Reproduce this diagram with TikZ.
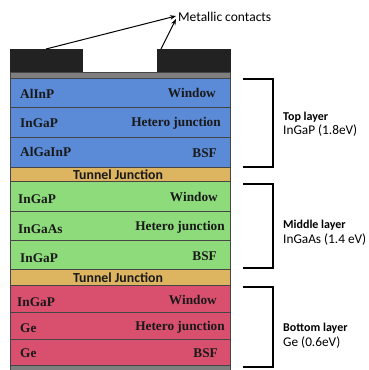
\documentclass[tikz,border=0pt]{standalone}
\usepackage{fontspec}
\setmainfont{Carlito}
\newfontfamily\layerfont{Liberation Serif}
\usetikzlibrary{arrows.meta}

\definecolor{topblue}{HTML}{5B8AD6}
\definecolor{midgreen}{HTML}{8EDB7C}
\definecolor{botred}{HTML}{D9506E}
\definecolor{tunnelgold}{HTML}{DDB45F}
\definecolor{edgegray}{HTML}{454545}
\definecolor{capgray}{HTML}{7F7F7F}
\definecolor{contactblack}{HTML}{222222}

\tikzset{
  layer/.style={draw=edgegray, line width=0.8pt, minimum width=220pt, inner sep=0pt, anchor=north west, outer sep=0pt},
  mat/.style={font=\layerfont\bfseries\fontsize{13.3}{13.3}\selectfont, text=black!90, anchor=west, inner sep=0pt},
  role/.style={font=\layerfont\bfseries\fontsize{13.3}{13.3}\selectfont, text=black!90, anchor=east, inner sep=0pt},
  tunnel/.style={font=\bfseries\fontsize{13.8}{13.8}\selectfont, text=black!90, inner sep=0pt},
  bracket/.style={line width=1.2pt, black},
  celltitle/.style={font=\bfseries\fontsize{12}{12}\selectfont, anchor=west, inner sep=0pt},
  cellsub/.style={font=\fontsize{13.3}{13.3}\selectfont, anchor=west, inner sep=0pt},
  pointer/.style={-{Stealth[length=6pt,width=4.5pt]}, line width=1pt}
}

\begin{document}
\begin{tikzpicture}[x=1pt,y=-1pt]
\useasboundingbox (0,0) rectangle (369,370);

% metal contacts and cap layer
\node[layer, draw=contactblack, fill=contactblack, minimum width=72pt, minimum height=24pt] (lc) at (10,49) {};
\node[layer, draw=contactblack, fill=contactblack, minimum width=73pt, minimum height=24pt] (rc) at (157,49) {};
\node[layer, fill=capgray, minimum height=6pt] (cap) at (10,72) {};

% top sub-cell
\node[layer, fill=topblue, minimum height=29pt] (t1) at (10,78) {};
\node[layer, fill=topblue, minimum height=30pt] (t2) at (10,107) {};
\node[layer, fill=topblue, minimum height=30pt] (t3) at (10,137) {};
\node[layer, fill=tunnelgold, minimum height=14pt] (tj1) at (10,167) {};

% middle sub-cell
\node[layer, fill=midgreen, minimum height=30pt] (m1) at (10,181) {};
\node[layer, fill=midgreen, minimum height=29pt] (m2) at (10,211) {};
\node[layer, fill=midgreen, minimum height=29pt] (m3) at (10,240) {};
\node[layer, fill=tunnelgold, minimum height=16pt] (tj2) at (10,269) {};

% bottom sub-cell
\node[layer, fill=botred, minimum height=27pt] (b1) at (10,285) {};
\node[layer, fill=botred, minimum height=27pt] (b2) at (10,312) {};
\node[layer, fill=botred, minimum height=26pt] (b3) at (10,339) {};
\node[layer, fill=capgray, minimum height=8pt] (sub) at (10,365) {};

% layer labels
\node[mat] (t1m) at (20,94) {AlInP};
\node[role] (t1r) at (216,93) {Window};
\node[mat] (t2m) at (20,123) {InGaP};
\node[role] (t2r) at (221,123) {Hetero junction};
\node[mat] (t3m) at (20,152) {AlGaInP};
\node[role] (t3r) at (217,153) {BSF};
\node[tunnel] (tj1t) at (118,175) {Tunnel Junction};

\node[mat] (m1m) at (18,199) {InGaP};
\node[role] (m1r) at (218,197) {Window};
\node[mat] (m2m) at (18,229) {InGaAs};
\node[role] (m2r) at (225,227) {Hetero junction};
\node[mat] (m3m) at (20,258) {InGaP};
\node[role] (m3r) at (217,256) {BSF};
\node[tunnel] (tj2t) at (118,278) {Tunnel Junction};

\node[mat] (b1m) at (17,302) {InGaP};
\node[role] (b1r) at (217,300) {Window};
\node[mat] (b2m) at (20,328) {Ge};
\node[role] (b2r) at (225,327) {Hetero junction};
\node[mat] (b3m) at (20,353) {Ge};
\node[role] (b3r) at (218,353) {BSF};

% sub-cell brackets
\coordinate (ta) at (243,79);  \coordinate (tb) at (273,79);
\coordinate (tc) at (273,167); \coordinate (td) at (243,167);
\draw[bracket] (ta) -- (tb) -- (tc) -- (td);
\coordinate (ma) at (243,184); \coordinate (mb) at (273,184);
\coordinate (mc) at (273,268); \coordinate (md) at (243,268);
\draw[bracket] (ma) -- (mb) -- (mc) -- (md);
\coordinate (ba) at (243,287); \coordinate (bb) at (273,287);
\coordinate (bc) at (273,367); \coordinate (bd) at (243,367);
\draw[bracket] (ba) -- (bb) -- (bc) -- (bd);

\node[celltitle] (toptitle) at (283,117) {Top layer};
\node[cellsub] (topsub) at (283,131) {InGaP (1.8eV)};
\node[celltitle] (midtitle) at (283,225) {Middle layer};
\node[cellsub] (midsub) at (283,240) {InGaAs (1.4 eV)};
\node[celltitle] (bottitle) at (283,328) {Bottom layer};
\node[cellsub] (botsub) at (283,343) {Ge (0.6eV)};

% contact callout
\node[font=\fontsize{13.5}{13.5}\selectfont, anchor=west, inner sep=0pt] (mc) at (178,17) {Metallic contacts};
\coordinate (tipA) at (176,16);
\coordinate (tipB) at (176,19);
\draw[pointer] (lc.north) -- (tipA);
\draw[pointer] ([xshift=4pt]rc.north west) -- (tipB);
\end{tikzpicture}
\end{document}
